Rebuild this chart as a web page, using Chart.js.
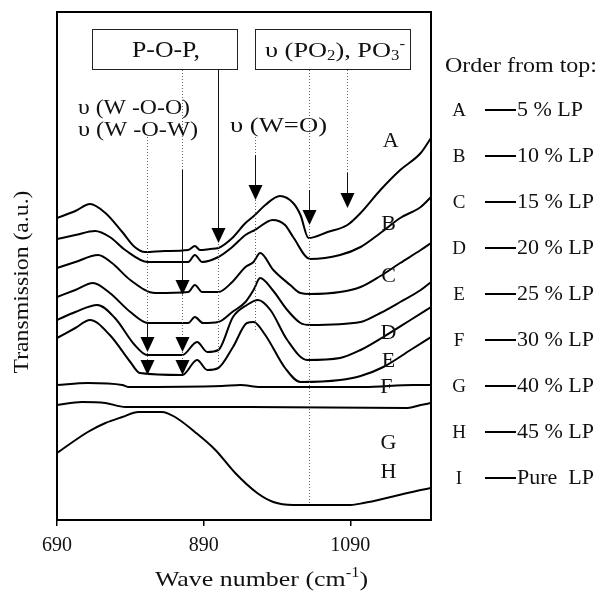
<!DOCTYPE html>
<html>
<head>
<meta charset="utf-8">
<script src="https://cdn.jsdelivr.net/npm/chart.js@4.4.1/dist/chart.umd.min.js"></script>
<style>
  body { margin: 0; background: #fff; }
  canvas { display: block; }
</style>
</head>
<body>
<canvas id="chart" width="598" height="593"></canvas>
<script>
// wave numbers (cm-1) and transmission (a.u.), top to bottom
const waveA = [690,715,735,756,779,796,810,837,869,878,885,899,910,929,947,960,974,994,1012,1022,1033,1059,1086,1104,1131,1158,1186,1200];
const transA = [302,309,316,307,288,273,268,269,270,274,270,271,272,282,297,305,315,324,317,305,282,288,295,307,330,350,367,382];

const waveB = [690,715,742,762,783,814,869,878,888,910,929,947,960,984,1001,1012,1035,1076,1104,1131,1158,1186,1200];
const transB = [281,285,289,283,270,258,258,265,258,263,273,285,290,300,295,283,261,265,273,287,302,313,323];

const waveC = [690,715,746,765,790,824,869,878,888,910,929,947,958,967,985,1008,1022,1035,1076,1104,1131,1158,1186,1200];
const transC = [252,258,265,257,240,227,228,235,228,228,238,253,258,267,250,235,227,226,228,233,244,257,270,277];

const waveD = [690,715,739,762,790,814,869,878,889,910,929,947,958,967,984,1004,1022,1035,1104,1131,1158,1186,1200];
const transD = [223,230,237,227,208,197,197,203,197,198,208,218,230,242,230,210,197,195,198,207,218,230,238];

const waveE = [690,715,745,769,796,813,861,881,895,910,930,949,964,981,1004,1031,1076,1104,1135,1172,1200];
const transE = [200,208,215,202,175,165,165,178,168,170,203,215,220,210,180,160,162,170,183,200,213];

const waveF = [690,715,735,762,790,803,861,881,895,910,930,949,958,974,1001,1022,1076,1104,1135,1172,1200];
const transF = [182,192,200,185,158,147,145,160,150,152,173,197,198,185,152,138,140,144,153,170,183];

const waveG = [690,732,779,787,915,940,967,1108,1176,1200];
const transG = [135,137,135,133,134,135,133,133,135,135];

const waveH = [690,724,756,783,953,1168,1186,1200];
const transH = [115,118,117,113,113,112,115,117];

const waveI = [690,732,756,779,801,833,851,878,906,933,963,985,1012,1090,1108,1145,1186,1200];
const transI = [67,88,97,103,108,108,103,88,70,47,27,18,15,15,17,23,30,32];

const xTicks = [690, 890, 1090];

// letters written next to the curves
const curveLetters = ['A','B','C','D','E','F','G','H'];
const letterWave = [1145,1142,1142,1142,1142,1139,1142,1142];
const letterTrans = [379,296,244,187,159,133,77,48];

// legend on the right
const legendKeys = ['A','B','C','D','E','F','G','H','I'];
const legendLabels = ['5 % LP','10 % LP','15 % LP','20 % LP','25 % LP','30 % LP','40 % LP','45 % LP','Pure  LP'];

// band markers: wave number, top of the guide, solid stem start, arrow tips, bottom of the dotted guide
const markerWave = [813, 861, 910, 960, 1034, 1085];
const markerTop = [383, 450, 450, 383, 450, 450];
const markerStem = [197, 350, 450, 365, 330, 347];
const markerTips = [[168,145],[225,168,145],[277],[320],[295],[312]];
const markerBottom = [145, 145, 158, 188, 15, 312];

const SERIF = "'Liberation Serif', 'DejaVu Serif', serif";

const series = [
  [waveA, transA], [waveB, transB], [waveC, transC], [waveD, transD], [waveE, transE],
  [waveF, transF], [waveG, transG], [waveH, transH], [waveI, transI]
];

// draws text made of parts (normal / sub / sup), squeezed or stretched to a width
function drawRich(ctx, parts, x, y, size, width, align) {
  const measure = p => {
    ctx.font = (p.sub || p.sup ? Math.round(size * 0.62) : size) + 'px ' + SERIF;
    return ctx.measureText(p.t).width;
  };
  const natural = parts.reduce((s, p) => s + measure(p), 0);
  const sx = width ? width / natural : 1;
  const total = natural * sx;
  let left = x;
  if (align === 'center') left = x - total / 2;
  if (align === 'right') left = x - total;
  ctx.save();
  ctx.translate(left, y);
  ctx.scale(sx, 1);
  ctx.fillStyle = '#111';
  ctx.textBaseline = 'middle';
  ctx.textAlign = 'left';
  let cx = 0;
  parts.forEach(p => {
    const w = measure(p);
    let dy = 0;
    if (p.sub) dy = size * 0.25;
    if (p.sup) dy = -size * 0.3;
    ctx.fillText(p.t, cx, dy);
    cx += w;
  });
  ctx.restore();
}

const decorations = {
  id: 'decorations',
  afterDatasetsDraw(chart) {
    const ctx = chart.ctx;
    const xs = chart.scales.x, ys = chart.scales.y;
    const a = chart.chartArea;

    // guides and arrows
    markerWave.forEach((w, i) => {
      const px = Math.round(xs.getPixelForValue(w)) + 0.5;
      ctx.save();
      ctx.strokeStyle = '#666';
      ctx.lineWidth = 1;
      ctx.setLineDash([1, 2]);
      ctx.beginPath();
      ctx.moveTo(px, ys.getPixelForValue(markerTop[i]));
      ctx.lineTo(px, ys.getPixelForValue(markerBottom[i]));
      ctx.stroke();
      ctx.setLineDash([]);
      ctx.strokeStyle = '#111';
      ctx.beginPath();
      ctx.moveTo(px, ys.getPixelForValue(markerStem[i]));
      ctx.lineTo(px, ys.getPixelForValue(markerTips[i][0]) - 14);
      ctx.stroke();
      ctx.fillStyle = '#000';
      markerTips[i].forEach(t => {
        const py = ys.getPixelForValue(t);
        ctx.beginPath();
        ctx.moveTo(px, py);
        ctx.lineTo(px - 7, py - 15);
        ctx.lineTo(px + 7, py - 15);
        ctx.closePath();
        ctx.fill();
      });
      ctx.restore();
    });

    // frame
    ctx.save();
    ctx.strokeStyle = '#000';
    ctx.lineWidth = 2;
    ctx.strokeRect(a.left, a.top, a.right - a.left, a.bottom - a.top);
    ctx.restore();

    // label boxes
    ctx.save();
    ctx.strokeStyle = '#222';
    ctx.lineWidth = 1;
    ctx.fillStyle = '#fff';
    ctx.fillRect(92.5, 29.5, 145, 40);
    ctx.strokeRect(92.5, 29.5, 145, 40);
    ctx.fillRect(255.5, 29.5, 155, 40);
    ctx.strokeRect(255.5, 29.5, 155, 40);
    ctx.restore();

    drawRich(ctx, [{t: 'P-O-P,'}], 166, 51, 23, 68, 'center');
    drawRich(ctx, [{t: 'υ (PO'}, {t: '2', sub: true}, {t: '), PO'}, {t: '3', sub: true}, {t: '-', sup: true}], 265, 51, 22, 140, 'left');
    drawRich(ctx, [{t: 'υ (W -O-O)'}], 78, 108, 22, 112, 'left');
    drawRich(ctx, [{t: 'υ (W -O-W)'}], 78, 130, 22, 120, 'left');
    drawRich(ctx, [{t: 'υ (W=O)'}], 230, 126, 22, 97, 'left');

    // curve letters
    curveLetters.forEach((l, i) => {
      drawRich(ctx, [{t: l}], xs.getPixelForValue(letterWave[i]), ys.getPixelForValue(letterTrans[i]), 22, 0, 'center');
    });

    // legend
    drawRich(ctx, [{t: 'Order from top:'}], 445, 66, 22, 152, 'left');
    legendKeys.forEach((k, i) => {
      const y = 110 + i * 46;
      drawRich(ctx, [{t: k}], 459, y + 1, 19, 0, 'center');
      ctx.save();
      ctx.strokeStyle = '#000';
      ctx.lineWidth = 2;
      ctx.beginPath();
      ctx.moveTo(485, y);
      ctx.lineTo(516, y);
      ctx.stroke();
      ctx.restore();
      drawRich(ctx, [{t: legendLabels[i]}], 517, y, 22, 0, 'left');
    });

    // axis titles
    drawRich(ctx, [{t: 'Wave number (cm'}, {t: '-1', sup: true}, {t: ')'}], 155, 580, 22, 213, 'left');
    ctx.save();
    ctx.translate(22, 282);
    ctx.rotate(-Math.PI / 2);
    drawRich(ctx, [{t: 'Transmission (a.u.)'}], 0, 0, 22, 183, 'center');
    ctx.restore();
  }
};

const chart = new Chart(document.getElementById('chart'), {
  type: 'line',
  data: {
    datasets: series.map(([w, t]) => ({
      data: w.map((x, i) => ({ x: x, y: t[i] })),
      borderColor: '#000',
      borderWidth: 2,
      pointRadius: 0,
      cubicInterpolationMode: 'monotone',
      fill: false
    }))
  },
  options: {
    responsive: false,
    animation: false,
    layout: { padding: { top: 12, right: 167, left: 0, bottom: 0 } },
    plugins: { legend: { display: false }, tooltip: { enabled: false } },
    scales: {
      x: {
        type: 'linear',
        min: 690,
        max: 1200,
        afterBuildTicks: axis => { axis.ticks = xTicks.map(v => ({ value: v })); },
        afterFit: axis => { axis.height = 73; },
        ticks: {
          color: '#111',
          font: { family: SERIF, size: 20 },
          padding: 8,
          maxRotation: 0,
          callback: v => String(v)
        },
        grid: { display: true, drawOnChartArea: false, color: '#000', tickLength: 6, lineWidth: 1.5 },
        border: { display: false }
      },
      y: {
        min: 0,
        max: 508,
        afterFit: axis => { axis.width = 57; },
        ticks: { display: false },
        grid: { display: false },
        border: { display: false }
      }
    }
  },
  plugins: [decorations]
});
</script>
</body>
</html>
